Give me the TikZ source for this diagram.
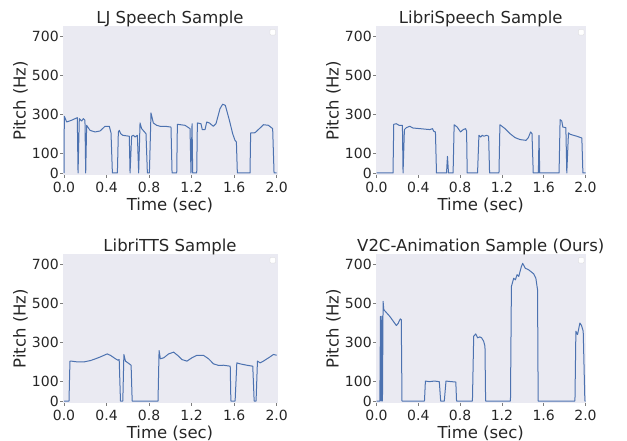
\documentclass[tikz,border=0pt]{standalone}
\usepackage{fontspec}
\setmainfont{DejaVu Sans}
\definecolor{axbg}{HTML}{EAEAF2}
\definecolor{pitchblue}{HTML}{4C72B0}
\definecolor{inkgray}{HTML}{262626}

\begin{document}
\begin{tikzpicture}[x=1pt, y=-1pt]
    \tikzset{
      panel/.style={fill=axbg},
      pitch/.style={draw=pitchblue, line width=1pt, line join=round},
      tickmark/.style={draw=inkgray!60, line width=0.6pt},
      ticklbl/.style={font=\fontsize{14}{16}\selectfont, text=inkgray, inner sep=1pt},
      axlbl/.style={font=\fontsize{16.5}{19}\selectfont, text=inkgray, inner sep=0pt},
      legbox/.style={fill=white, draw=black!15, line width=0.3pt, rounded corners=0.8pt},
    }
    \useasboundingbox (0,0) rectangle (627,441);
    % ===== Panel 1: LJ Speech =====
    \begin{scope}[shift={(64,173)}, x=106.35pt, y=0.1955pt]
      \fill[panel] (-0.014,-12) rectangle (2.0075,752);
      \foreach \h [count=\i] in {0,100,300,500,700}
        \draw[tickmark] (-0.014,\h) -- ++(-2.5pt,0) node[left, ticklbl] (a1y\i) {\h};
      \foreach \t [count=\i] in {0.0,0.4,0.8,1.2,1.6,2.0}
        \draw[tickmark] (\t,-12) -- ++(0,-2.5pt) node[below=2.5pt, ticklbl] (a1x\i) {\t};
      \draw[legbox] (2.0075,752) ++(-7.5pt,-3.6pt) rectangle ++(5.4pt,-5.4pt);
      \node[axlbl, anchor=base, yshift=2.7pt] (ljtitle) at (0.9968,752) {LJ Speech Sample};
      \node[axlbl, anchor=base, yshift=-35pt] (ljtime) at (0.9968,-12) {Time (sec)};
      \path (-0.014,370) ++(-37pt,0) node[axlbl, anchor=base, rotate=90] (ljpitch) {Pitch (Hz)};
      \draw[pitch] (0,0) -- (0.003,290) -- (0.025,261) -- (0.072,270) -- (0.125,283)
        -- (0.132,0) -- (0.144,278) -- (0.166,266) -- (0.182,278) -- (0.197,270)
        -- (0.204,0) -- (0.213,244) -- (0.245,218) -- (0.292,210) -- (0.339,215)
        -- (0.386,239) -- (0.426,239) -- (0.442,205) -- (0.455,0) -- (0.502,0)
        -- (0.511,210) -- (0.520,218) -- (0.533,201) -- (0.552,193) -- (0.614,188)
        -- (0.621,0) -- (0.636,188) -- (0.652,193) -- (0.668,184) -- (0.690,193)
        -- (0.702,0) -- (0.715,256) -- (0.730,227) -- (0.771,201) -- (0.784,0)
        -- (0.803,0) -- (0.818,307) -- (0.840,256) -- (0.871,244) -- (0.903,239)
        -- (0.950,239) -- (1.006,235) -- (1.016,0) -- (1.060,0) -- (1.066,249)
        -- (1.138,244) -- (1.185,227) -- (1.194,0) -- (1.204,252) -- (1.210,0)
        -- (1.248,0) -- (1.254,256) -- (1.288,252) -- (1.300,222) -- (1.326,222)
        -- (1.342,261) -- (1.367,256) -- (1.404,239) -- (1.429,252) -- (1.467,329)
        -- (1.492,352) -- (1.517,346) -- (1.555,270) -- (1.586,201) -- (1.608,167)
        -- (1.621,159) -- (1.630,0) -- (1.749,0) -- (1.755,205) -- (1.796,206)
        -- (1.843,230) -- (1.875,247) -- (1.922,244) -- (1.962,227) -- (1.975,0)
        -- (2.0,0);
    \end{scope}
    % ===== Panel 2: LibriSpeech =====
    \begin{scope}[shift={(376.5,173)}, x=104.5pt, y=0.1955pt]
      \fill[panel] (-0.0096,-12) rectangle (2.0048,752);
      \foreach \h [count=\i] in {0,100,300,500,700}
        \draw[tickmark] (-0.0096,\h) -- ++(-2.5pt,0) node[left, ticklbl] (a2y\i) {\h};
      \foreach \t [count=\i] in {0.0,0.4,0.8,1.2,1.6,2.0}
        \draw[tickmark] (\t,-12) -- ++(0,-2.5pt) node[below=2.5pt, ticklbl] (a2x\i) {\t};
      \draw[legbox] (2.0048,752) ++(-7.5pt,-3.6pt) rectangle ++(5.4pt,-5.4pt);
      \node[axlbl, anchor=base, yshift=2.7pt] (lstitle) at (0.9976,752) {LibriSpeech Sample};
      \node[axlbl, anchor=base, yshift=-35pt] (lstime) at (0.9976,-12) {Time (sec)};
      \path (-0.0096,370) ++(-37pt,0) node[axlbl, anchor=base, rotate=90] (lspitch) {Pitch (Hz)};
      \draw[pitch] (0,0) -- (0.158,0) -- (0.165,249) -- (0.190,252) -- (0.216,244)
        -- (0.248,244) -- (0.254,0) -- (0.267,222) -- (0.286,232) -- (0.318,239)
        -- (0.350,230) -- (0.414,227) -- (0.510,222) -- (0.536,227) -- (0.548,213)
        -- (0.564,210) -- (0.574,0) -- (0.670,0) -- (0.679,85) -- (0.689,0)
        -- (0.733,0) -- (0.743,247) -- (0.772,235) -- (0.804,210) -- (0.830,222)
        -- (0.852,227) -- (0.862,215) -- (0.868,0) -- (0.967,0) -- (0.980,193)
        -- (0.996,184) -- (1.012,193) -- (1.028,188) -- (1.054,193) -- (1.073,188)
        -- (1.082,0) -- (1.172,0) -- (1.181,247) -- (1.230,227) -- (1.278,201)
        -- (1.326,181) -- (1.374,171) -- (1.431,167) -- (1.453,181) -- (1.475,210)
        -- (1.488,201) -- (1.500,0) -- (1.549,0) -- (1.555,193) -- (1.562,0)
        -- (1.747,0) -- (1.757,273) -- (1.773,266) -- (1.783,235) -- (1.812,232)
        -- (1.821,0) -- (1.837,205) -- (1.853,198) -- (1.917,188) -- (1.965,179)
        -- (1.975,0) -- (2.0,0);
    \end{scope}
    % ===== Panel 3: LibriTTS =====
    \begin{scope}[shift={(64,401)}, x=106.35pt, y=0.1955pt]
      \fill[panel] (-0.014,-12) rectangle (2.0075,752);
      \foreach \h [count=\i] in {0,100,300,500,700}
        \draw[tickmark] (-0.014,\h) -- ++(-2.5pt,0) node[left, ticklbl] (a3y\i) {\h};
      \foreach \t [count=\i] in {0.0,0.4,0.8,1.2,1.6,2.0}
        \draw[tickmark] (\t,-12) -- ++(0,-2.5pt) node[below=2.5pt, ticklbl] (a3x\i) {\t};
      \draw[legbox] (2.0075,752) ++(-7.5pt,-3.6pt) rectangle ++(5.4pt,-5.4pt);
      \node[axlbl, anchor=base, yshift=2.7pt] (lttitle) at (0.9968,752) {LibriTTS Sample};
      \node[axlbl, anchor=base, yshift=-35pt] (lttime) at (0.9968,-12) {Time (sec)};
      \path (-0.014,370) ++(-37pt,0) node[axlbl, anchor=base, rotate=90] (ltpitch) {Pitch (Hz)};
      \draw[pitch] (0,0) -- (0.047,0) -- (0.056,204) -- (0.069,204) -- (0.125,200)
        -- (0.188,200) -- (0.250,207) -- (0.297,216) -- (0.344,226) -- (0.406,241)
        -- (0.438,233) -- (0.484,216) -- (0.506,209) -- (0.519,212) -- (0.531,0)
        -- (0.553,0) -- (0.563,238) -- (0.578,204) -- (0.609,192) -- (0.631,183)
        -- (0.641,0) -- (0.884,0) -- (0.894,258) -- (0.906,216) -- (0.938,221)
        -- (0.984,241) -- (1.031,250) -- (1.078,229) -- (1.109,212) -- (1.156,204)
        -- (1.203,221) -- (1.250,234) -- (1.313,233) -- (1.359,216) -- (1.406,190)
        -- (1.453,182) -- (1.500,183) -- (1.563,178) -- (1.569,0) -- (1.609,0)
        -- (1.625,195) -- (1.656,190) -- (1.719,183) -- (1.775,178) -- (1.788,0)
        -- (1.806,0) -- (1.819,204) -- (1.844,195) -- (1.875,204) -- (1.938,226)
        -- (1.969,238) -- (2.0,234);
    \end{scope}
    % ===== Panel 4: V2C-Animation (ours) =====
    \begin{scope}[shift={(376.5,401)}, x=104.5pt, y=0.1955pt]
      \fill[panel] (-0.0096,-12) rectangle (2.0048,752);
      \foreach \h [count=\i] in {0,100,300,500,700}
        \draw[tickmark] (-0.0096,\h) -- ++(-2.5pt,0) node[left, ticklbl] (a4y\i) {\h};
      \foreach \t [count=\i] in {0.0,0.4,0.8,1.2,1.6,2.0}
        \draw[tickmark] (\t,-12) -- ++(0,-2.5pt) node[below=2.5pt, ticklbl] (a4x\i) {\t};
      \draw[legbox] (2.0048,752) ++(-7.5pt,-3.6pt) rectangle ++(5.4pt,-5.4pt);
      \node[axlbl, anchor=base, yshift=2.7pt] (v2title) at (0.9976,752) {V2C-Animation Sample (Ours)};
      \node[axlbl, anchor=base, yshift=-35pt] (v2time) at (0.9976,-12) {Time (sec)};
      \path (-0.0096,370) ++(-37pt,0) node[axlbl, anchor=base, rotate=90] (v2pitch) {Pitch (Hz)};
      \draw[pitch] (0,0) -- (0.032,0) -- (0.038,433) -- (0.044,0) -- (0.051,433)
        -- (0.057,0) -- (0.063,510) -- (0.070,467) -- (0.127,433) -- (0.190,386)
        -- (0.206,396) -- (0.228,420) -- (0.237,416) -- (0.244,0) -- (0.459,0)
        -- (0.468,102) -- (0.506,99) -- (0.554,102) -- (0.601,99) -- (0.614,0)
        -- (0.649,0) -- (0.665,102) -- (0.696,100) -- (0.759,97) -- (0.766,0)
        -- (0.918,0) -- (0.930,331) -- (0.949,343) -- (0.968,323) -- (0.987,328)
        -- (1.006,323) -- (1.025,306) -- (1.038,280) -- (1.044,0) -- (1.282,0)
        -- (1.291,586) -- (1.313,628) -- (1.329,620) -- (1.345,646) -- (1.361,637)
        -- (1.386,687) -- (1.399,704) -- (1.424,679) -- (1.456,671) -- (1.503,651)
        -- (1.525,628) -- (1.541,569) -- (1.547,0) -- (1.899,0) -- (1.908,357)
        -- (1.924,340) -- (1.946,399) -- (1.962,386) -- (1.978,357) -- (1.994,0)
        -- (2.0,0);
    \end{scope}
\end{tikzpicture}
\end{document}
